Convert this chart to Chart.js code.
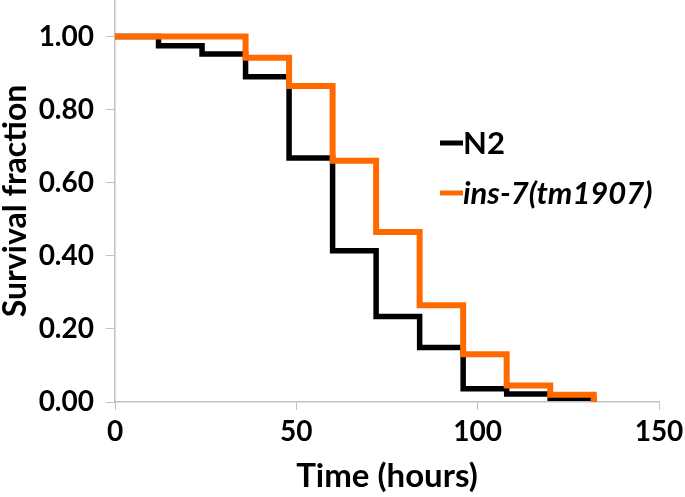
<!DOCTYPE html>
<html>
<head>
<meta charset="utf-8">
<script src="https://cdn.jsdelivr.net/npm/chart.js@4/dist/chart.umd.min.js"></script>
<style>
  html, body { margin: 0; padding: 0; background: #fff; }
  #wrap { width: 685px; height: 497px; }
</style>
</head>
<body>
<div id="wrap"><canvas id="survChart" width="685" height="497"></canvas></div>
<script>
// Données de survie (temps en heures)
const timesN2 = [0, 12, 24, 36, 48, 60, 72, 84, 96, 108, 120, 132];
const survN2 = [1.00, 0.975, 0.952, 0.89, 0.668, 0.414, 0.234, 0.149, 0.036, 0.022, 0.01, 0.0];
const timesIns7 = [0, 36, 48, 60, 72, 84, 96, 108, 120, 132];
const survIns7 = [1.00, 0.942, 0.865, 0.66, 0.465, 0.265, 0.131, 0.045, 0.02, 0.0];
const seriesNames = ['N2', 'ins-7(tm1907)'];
const yTicks = [0, 0.2, 0.4, 0.6, 0.8, 1.0];

const FONT = 'Lato, "Open Sans", sans-serif';
const AXIS_GREY = '#bfbfbf';

function toPoints(xs, ys) {
    return xs.map((x, i) => ({ x: x, y: ys[i] }));
}

// Légende dessinée dans la zone du graphique
const legendInside = {
    id: 'legendInside',
    afterDraw(chart) {
        const ctx = chart.ctx;
        const entries = [
            { text: seriesNames[0], color: '#000000', italic: false, y: 143 },
            { text: seriesNames[1], color: '#ff6a00', italic: true, y: 193 }
        ];
        ctx.save();
        entries.forEach(e => {
            ctx.strokeStyle = e.color;
            ctx.lineWidth = 5;
            ctx.beginPath();
            ctx.moveTo(440, e.y);
            ctx.lineTo(463, e.y);
            ctx.stroke();
            ctx.fillStyle = '#000';
            ctx.font = (e.italic ? 'italic ' : '') + 'bold 31px ' + FONT;
            ctx.textBaseline = 'middle';
            ctx.fillText(e.text, 463, e.y + 1);
        });
        ctx.restore();
    }
};

new Chart(document.getElementById('survChart'), {
    type: 'line',
    data: {
        datasets: [{
            label: seriesNames[1],
            data: toPoints(timesIns7, survIns7),
            borderColor: '#ff6a00',
            borderWidth: 6,
            stepped: 'before',
            pointRadius: 0,
            fill: false,
            order: 0
        }, {
            label: seriesNames[0],
            data: toPoints(timesN2, survN2),
            borderColor: '#000000',
            borderWidth: 5.5,
            stepped: 'before',
            pointRadius: 0,
            fill: false,
            order: 1
        }]
    },
    options: {
        responsive: false,
        animation: false,
        layout: { padding: { left: 0, right: 26, top: 0, bottom: 0 } },
        plugins: {
            legend: { display: false },
            tooltip: { enabled: false }
        },
        scales: {
            x: {
                type: 'linear',
                min: 0,
                max: 150,
                ticks: {
                    stepSize: 50,
                    color: '#000',
                    font: { family: FONT, size: 28, weight: 'bold' },
                    padding: 5,
                    maxRotation: 0
                },
                grid: { display: true, drawOnChartArea: false, drawTicks: true, tickLength: 8, color: AXIS_GREY },
                border: { display: true, color: AXIS_GREY, width: 1.5 },
                title: {
                    display: true,
                    text: 'Time (hours)',
                    color: '#000',
                    font: { family: FONT, size: 33, weight: 'bold', lineHeight: 1 },
                    padding: { top: 0, bottom: 4 }
                },
                afterFit(scale) {
                    scale.height = 95;
                    scale.paddingLeft = 0;
                    scale.paddingRight = 0;
                }
            },
            y: {
                min: 0,
                max: 1.1,
                afterBuildTicks(scale) {
                    scale.ticks = yTicks.map(v => ({ value: v }));
                },
                ticks: {
                    color: '#000',
                    font: { family: FONT, size: 28, weight: 'bold' },
                    padding: 12,
                    callback: v => v.toFixed(2)
                },
                grid: { display: true, drawOnChartArea: false, drawTicks: true, tickLength: 9, color: AXIS_GREY },
                border: { display: true, color: AXIS_GREY, width: 1.5 },
                title: {
                    display: true,
                    text: 'Survival fraction',
                    color: '#000',
                    font: { family: FONT, size: 32, weight: 'bold', lineHeight: 1 },
                    padding: { top: 0, bottom: 0 }
                },
                afterFit(scale) {
                    scale.width = 115;
                    scale.paddingTop = 0;
                    scale.paddingBottom = 0;
                }
            }
        }
    },
    plugins: [legendInside]
});
</script>
</body>
</html>
